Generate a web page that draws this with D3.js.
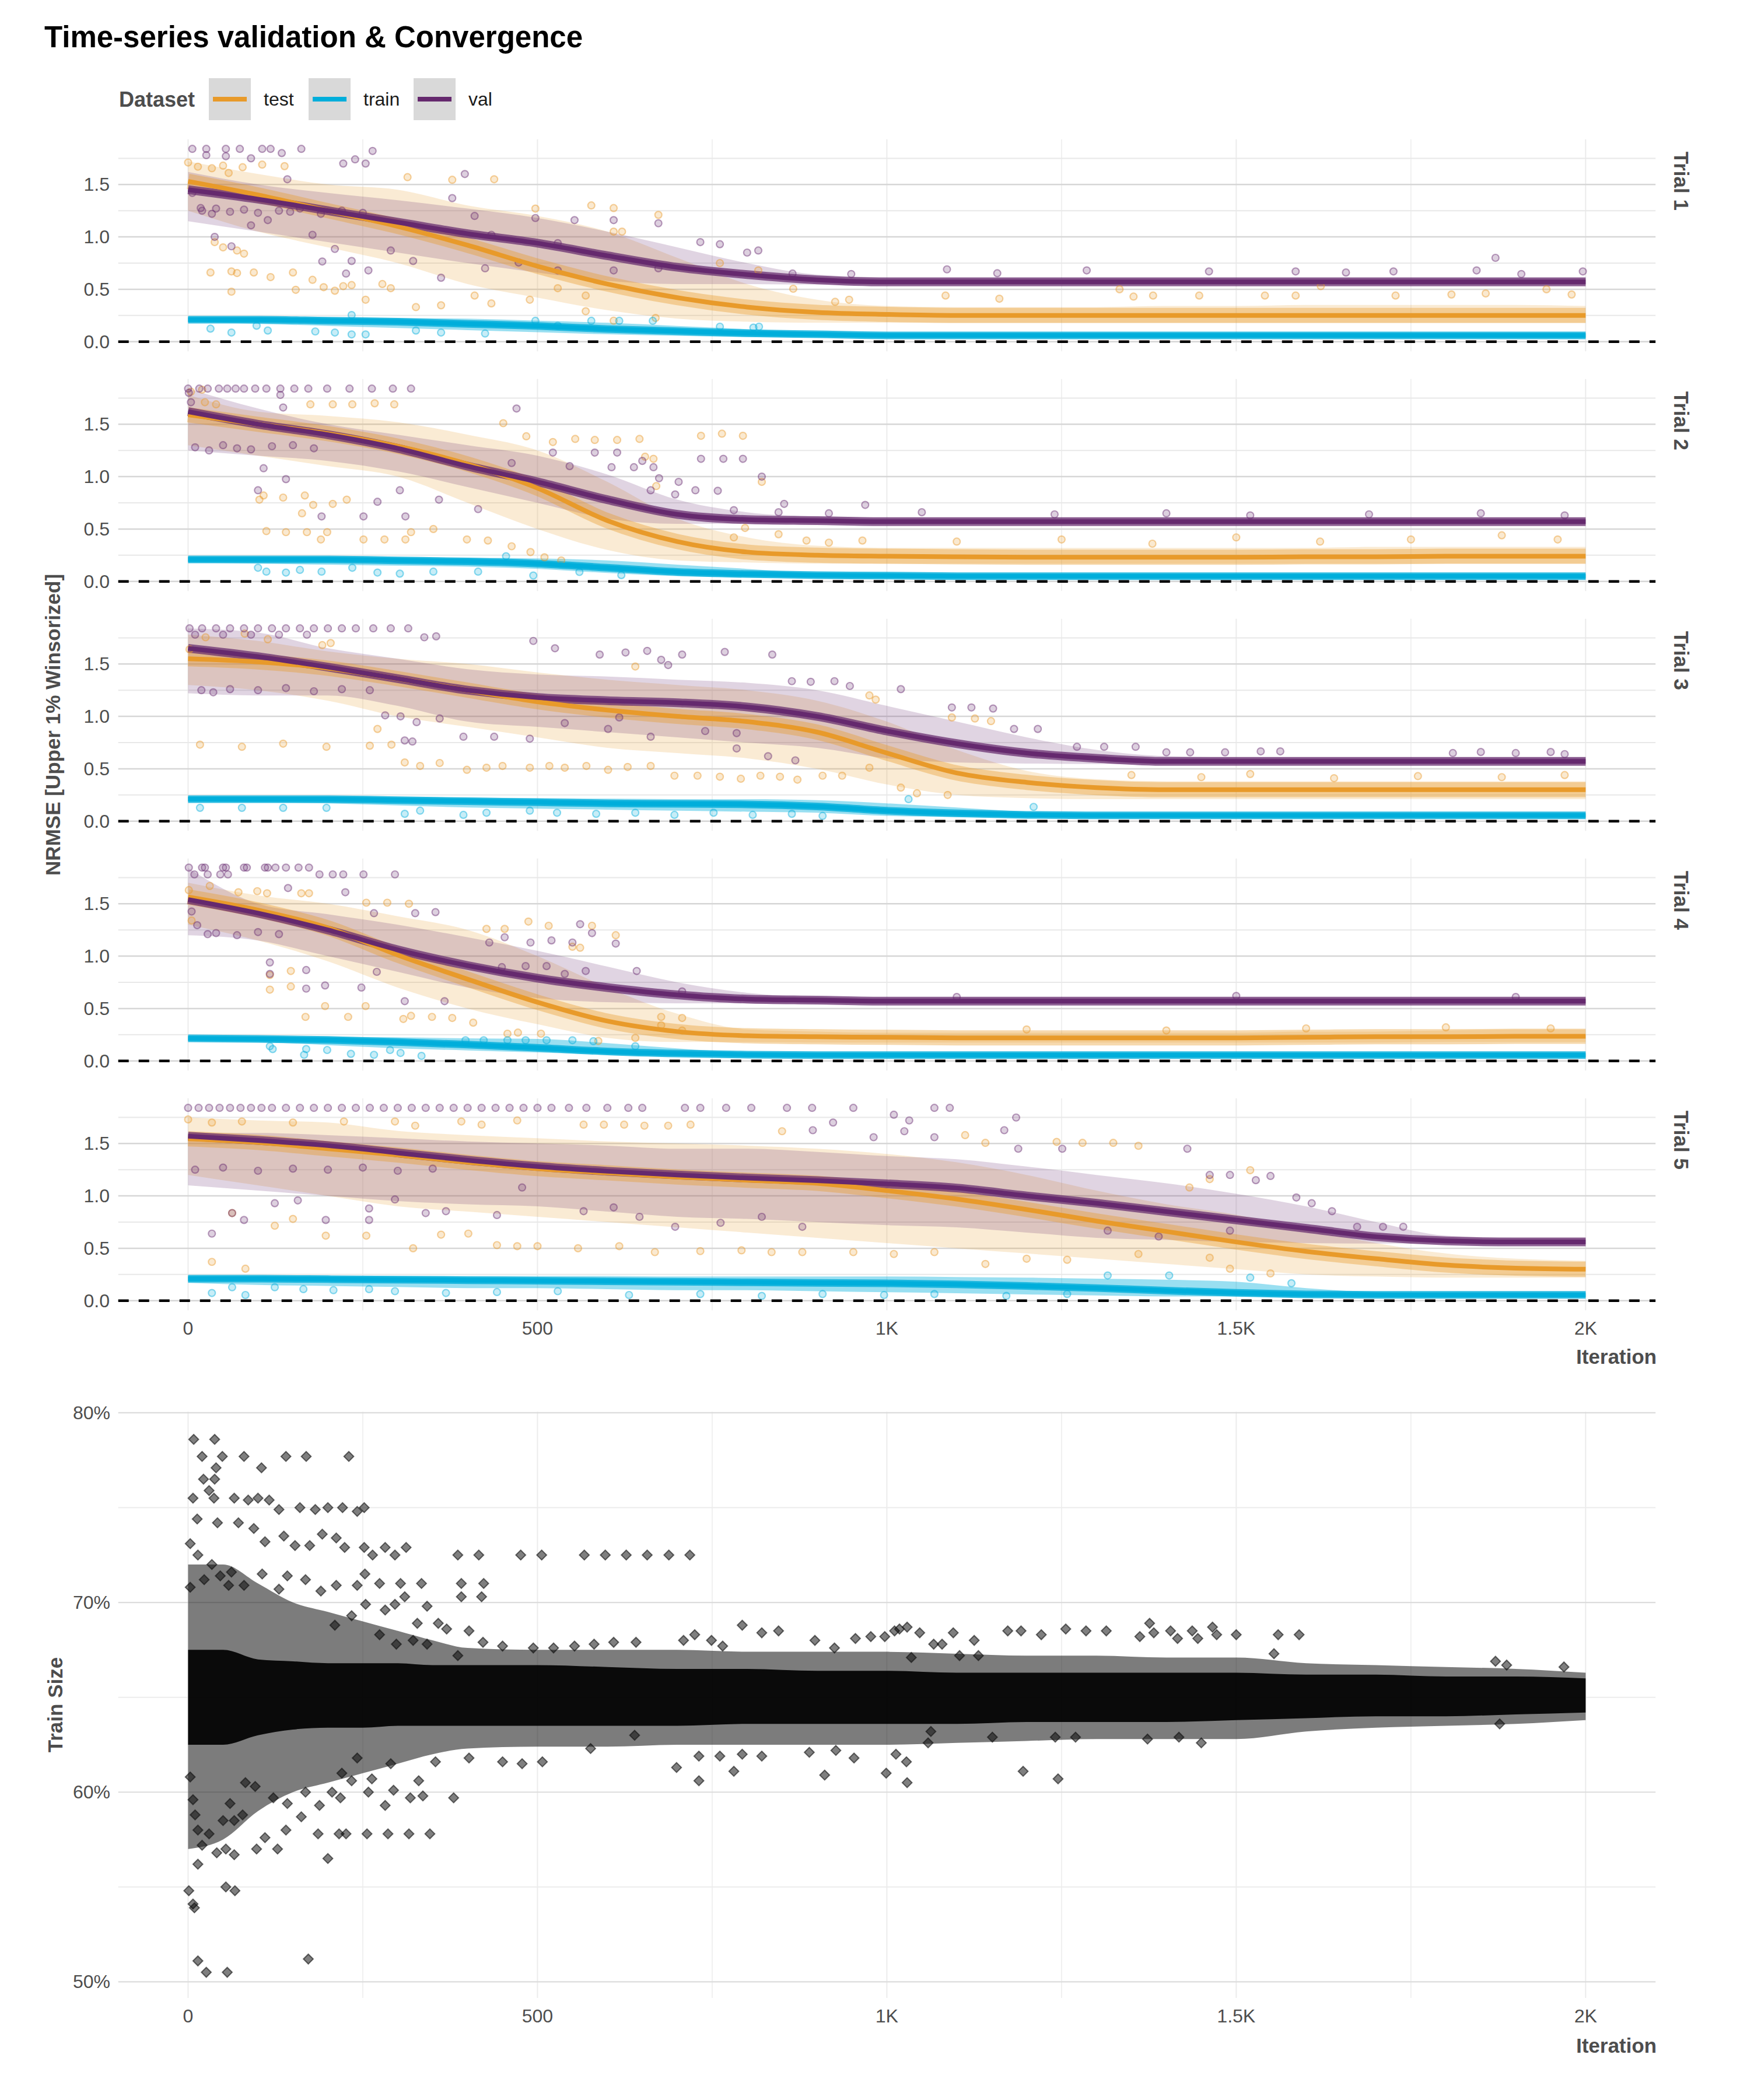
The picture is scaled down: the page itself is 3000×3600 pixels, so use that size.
<!DOCTYPE html>
<html><head><meta charset="utf-8">
<script src="https://cdn.jsdelivr.net/npm/d3@7/dist/d3.min.js"></script>
<style>body{margin:0;background:#fff} text{font-family:"Liberation Sans",Arial,Helvetica,sans-serif}</style>
</head><body><svg id="c" width="3000" height="3600"></svg>
<script>
// ---------------- DATA ----------------
const iters = [0,100,200,300,400,500,600,700,800,900,1000,1100,1200,1300,1400,1500,1600,1700,1800,1900,2000];
const trials = ["Trial 1","Trial 2","Trial 3","Trial 4","Trial 5"];
const seriesNames = ["test","train","val"];
const seriesColors = ["#E89A2A","#00AEDB","#65296E"];
const yTicks = [0,0.5,1,1.5];
const yMinor = [0.25,0.75,1.25,1.75];
const xTicks = [0,500,1000,1500,2000];
const xMinor = [250,750,1250,1750];
const xTickLabels = ["0","500","1K","1.5K","2K"];

// Trial 1
const t1Test   = [1.53,1.40,1.25,1.10,0.92,0.72,0.55,0.42,0.33,0.28,0.26,0.25,0.25,0.25,0.25,0.25,0.25,0.25,0.25,0.25,0.25];
const t1TestLo = [1.25,1.05,0.90,0.75,0.55,0.42,0.30,0.22,0.19,0.18,0.18,0.18,0.18,0.18,0.18,0.18,0.18,0.18,0.18,0.18,0.18];
const t1TestHi = [1.72,1.60,1.50,1.45,1.30,1.20,1.05,0.80,0.55,0.40,0.34,0.33,0.33,0.33,0.34,0.34,0.35,0.35,0.35,0.35,0.34];
const t1Train   = [0.21,0.21,0.20,0.19,0.17,0.15,0.12,0.10,0.08,0.07,0.06,0.06,0.06,0.06,0.06,0.06,0.06,0.06,0.06,0.06,0.06];
const t1TrainLo = [0.19,0.17,0.15,0.13,0.11,0.09,0.07,0.055,0.045,0.04,0.04,0.04,0.04,0.04,0.04,0.04,0.04,0.04,0.04,0.04,0.04];
const t1TrainHi = [0.235,0.235,0.23,0.225,0.22,0.20,0.18,0.15,0.12,0.09,0.075,0.075,0.075,0.075,0.075,0.075,0.075,0.075,0.075,0.075,0.075];
const t1Val   = [1.45,1.36,1.25,1.14,1.03,0.94,0.82,0.71,0.64,0.59,0.57,0.57,0.57,0.57,0.57,0.57,0.57,0.57,0.57,0.57,0.57];
const t1ValLo = [1.15,1.05,0.95,0.85,0.75,0.66,0.58,0.55,0.55,0.545,0.545,0.545,0.545,0.545,0.545,0.545,0.545,0.545,0.545,0.545,0.545];
const t1ValHi = [1.62,1.50,1.42,1.35,1.27,1.18,1.05,0.90,0.75,0.64,0.615,0.615,0.615,0.615,0.615,0.615,0.615,0.615,0.615,0.615,0.615];
const t1TestPts = [[0,1.71],[14,1.67],[34,1.655],[50,1.68],[58,1.61],[78,1.665],[106,1.69],[138,1.675],[38,0.95],[50,0.90],[70,0.87],[80,0.84],[32,0.66],[62,0.67],[70,0.655],[94,0.66],[118,0.616],[62,0.477],[150,0.66],[178,0.59],[154,0.495],[194,0.52],[210,0.486],[222,0.53],[234,0.54],[254,0.40],[278,0.55],[290,0.51],[326,0.33],[362,0.347],[314,1.57],[378,1.545],[438,1.55],[497,1.27],[577,1.30],[609,1.275],[673,1.21],[609,1.05],[621,1.05],[410,0.44],[434,0.365],[489,0.40],[529,0.51],[569,0.44],[569,0.29],[609,0.20],[669,0.226],[761,0.75],[816,0.68],[866,0.505],[926,0.38],[946,0.40],[1084,0.44],[1161,0.41],[1333,0.50],[1353,0.43],[1381,0.44],[1447,0.44],[1541,0.44],[1585,0.44],[1621,0.53],[1728,0.44],[1808,0.45],[1857,0.46],[1944,0.50],[1980,0.45]];
const t1TrainPts = [[32,0.124],[62,0.087],[98,0.152],[114,0.106],[182,0.097],[210,0.087],[234,0.069],[254,0.069],[326,0.106],[362,0.087],[425,0.078],[497,0.199],[529,0.152],[577,0.199],[617,0.199],[665,0.199],[761,0.143],[809,0.134],[817,0.143],[234,0.254]];
const t1ValPts = [[6,1.84],[26,1.84],[54,1.84],[74,1.84],[106,1.84],[118,1.84],[162,1.84],[264,1.82],[26,1.78],[54,1.77],[90,1.75],[134,1.80],[222,1.70],[239,1.74],[254,1.70],[396,1.60],[6,1.42],[18,1.275],[34,1.22],[38,1.0],[62,0.91],[90,1.11],[114,1.16],[142,1.55],[146,1.24],[178,1.02],[210,0.885],[192,0.765],[234,0.77],[258,0.68],[226,0.65],[290,0.87],[322,0.77],[362,0.61],[378,1.37],[410,1.20],[434,1.02],[497,1.18],[529,0.94],[553,1.16],[609,1.16],[673,1.13],[733,0.95],[761,0.93],[800,0.85],[816,0.87],[529,0.68],[609,0.68],[673,0.70],[473,0.755],[425,0.70],[865,0.65],[949,0.645],[1086,0.69],[1158,0.653],[1286,0.68],[1461,0.67],[1585,0.67],[1657,0.66],[1725,0.67],[1844,0.68],[1871,0.80],[1908,0.645],[1996,0.67],[20,1.25],[40,1.27],[60,1.24],[80,1.26],[100,1.23],[130,1.25],[160,1.27],[190,1.22],[220,1.25],[250,1.23]];

// Trial 2
const t2Test   = [1.59,1.50,1.41,1.29,1.12,0.89,0.58,0.38,0.28,0.25,0.24,0.235,0.23,0.23,0.23,0.23,0.235,0.235,0.24,0.24,0.24];
const t2TestLo = [1.30,1.20,1.10,1.00,0.75,0.50,0.30,0.20,0.18,0.17,0.17,0.17,0.17,0.17,0.17,0.17,0.17,0.17,0.17,0.17,0.17];
const t2TestHi = [1.78,1.62,1.58,1.52,1.40,1.25,0.95,0.60,0.42,0.34,0.32,0.32,0.32,0.32,0.32,0.32,0.32,0.33,0.33,0.33,0.33];
const t2Train   = [0.21,0.21,0.21,0.20,0.19,0.17,0.13,0.09,0.07,0.06,0.055,0.05,0.05,0.05,0.05,0.05,0.05,0.05,0.05,0.05,0.05];
const t2TrainLo = [0.18,0.17,0.16,0.15,0.14,0.12,0.08,0.05,0.04,0.035,0.035,0.035,0.035,0.035,0.035,0.035,0.035,0.035,0.035,0.035,0.035];
const t2TrainHi = [0.235,0.235,0.235,0.23,0.225,0.22,0.20,0.16,0.12,0.08,0.07,0.065,0.065,0.065,0.065,0.065,0.065,0.065,0.065,0.065,0.065];
const t2Val   = [1.62,1.50,1.40,1.27,1.10,0.95,0.78,0.64,0.59,0.58,0.57,0.57,0.57,0.57,0.57,0.57,0.57,0.57,0.57,0.57,0.57];
const t2ValLo = [1.25,1.20,1.15,1.05,0.90,0.75,0.60,0.55,0.55,0.545,0.545,0.545,0.545,0.545,0.545,0.545,0.545,0.545,0.545,0.545,0.545];
const t2ValHi = [1.84,1.65,1.50,1.40,1.30,1.20,1.02,0.78,0.66,0.62,0.61,0.61,0.61,0.61,0.61,0.61,0.61,0.61,0.61,0.61,0.61];
const t2TestPts = [[4,1.81],[20,1.83],[24,1.71],[40,1.69],[175,1.69],[207,1.69],[235,1.69],[267,1.70],[295,1.69],[102,0.78],[108,0.82],[136,0.80],[167,0.82],[179,0.73],[207,0.74],[227,0.78],[163,0.65],[112,0.48],[140,0.47],[170,0.47],[199,0.47],[190,0.40],[251,0.40],[281,0.40],[311,0.40],[319,0.47],[351,0.50],[399,0.40],[429,0.39],[451,1.51],[484,1.385],[522,1.33],[554,1.36],[582,1.35],[614,1.35],[646,1.36],[734,1.39],[764,1.41],[794,1.39],[654,1.19],[666,1.17],[670,0.91],[821,0.95],[463,0.335],[490,0.28],[510,0.23],[534,0.20],[885,0.39],[917,0.37],[965,0.39],[781,0.42],[797,0.51],[845,0.45],[1100,0.38],[1250,0.40],[1380,0.36],[1500,0.42],[1620,0.38],[1750,0.40],[1880,0.44],[1960,0.40]];
const t2TrainPts = [[100,0.13],[112,0.093],[140,0.084],[160,0.11],[191,0.093],[235,0.13],[271,0.084],[303,0.074],[351,0.093],[415,0.093],[455,0.24],[494,0.056],[560,0.09],[620,0.06]];
const t2ValPts = [[0,1.84],[16,1.84],[28,1.84],[44,1.84],[56,1.84],[68,1.84],[80,1.84],[96,1.84],[112,1.84],[132,1.84],[152,1.84],[172,1.84],[199,1.84],[231,1.84],[263,1.84],[293,1.84],[319,1.84],[1,1.80],[4,1.71],[132,1.78],[470,1.65],[136,1.66],[108,1.08],[100,0.87],[140,0.976],[191,0.62],[251,0.62],[271,0.76],[311,0.62],[303,0.87],[359,0.78],[415,0.69],[463,1.13],[522,1.23],[546,1.10],[582,1.23],[606,1.09],[614,1.23],[638,1.09],[650,1.15],[666,1.09],[674,0.985],[662,0.87],[702,0.95],[697,0.83],[726,0.87],[734,1.17],[758,0.865],[766,1.17],[794,1.17],[821,1.00],[853,0.74],[969,0.73],[917,0.65],[781,0.68],[845,0.66],[1050,0.66],[1240,0.64],[1400,0.65],[1520,0.63],[1690,0.64],[1850,0.65],[1970,0.63],[10,1.28],[30,1.25],[50,1.30],[70,1.27],[90,1.26],[120,1.29],[150,1.30],[180,1.27]];

// Trial 3
const t3Test   = [1.55,1.52,1.46,1.36,1.25,1.14,1.06,1.00,0.95,0.85,0.65,0.46,0.37,0.32,0.30,0.30,0.30,0.30,0.30,0.30,0.30];
const t3TestLo = [1.30,1.25,1.15,1.00,0.90,0.80,0.70,0.65,0.60,0.50,0.35,0.25,0.22,0.21,0.21,0.21,0.21,0.21,0.21,0.21,0.21];
const t3TestHi = [1.78,1.72,1.62,1.55,1.50,1.42,1.35,1.30,1.25,1.15,0.95,0.68,0.48,0.40,0.38,0.38,0.38,0.38,0.38,0.38,0.38];
const t3Train   = [0.21,0.21,0.21,0.20,0.19,0.18,0.17,0.165,0.16,0.14,0.10,0.075,0.06,0.055,0.055,0.055,0.055,0.055,0.055,0.055,0.055];
const t3TrainLo = [0.19,0.18,0.17,0.15,0.13,0.12,0.11,0.10,0.09,0.08,0.05,0.04,0.035,0.035,0.035,0.035,0.035,0.035,0.035,0.035,0.035];
const t3TrainHi = [0.235,0.235,0.235,0.23,0.225,0.22,0.215,0.21,0.21,0.20,0.17,0.13,0.09,0.07,0.065,0.065,0.065,0.065,0.065,0.065,0.065];
const t3Val   = [1.65,1.57,1.47,1.36,1.25,1.18,1.15,1.13,1.09,1.00,0.86,0.74,0.65,0.60,0.57,0.57,0.57,0.57,0.57,0.57,0.57];
const t3ValLo = [1.22,1.20,1.20,1.10,0.95,0.90,0.85,0.80,0.75,0.70,0.60,0.56,0.55,0.545,0.545,0.545,0.545,0.545,0.545,0.545,0.545];
const t3ValHi = [1.84,1.80,1.65,1.55,1.45,1.40,1.38,1.35,1.32,1.25,1.10,0.95,0.80,0.68,0.62,0.61,0.61,0.61,0.61,0.61,0.61];
const t3TestPts = [[17,0.73],[77,0.71],[136,0.74],[198,0.71],[260,0.72],[291,0.73],[271,0.88],[310,0.56],[332,0.527],[360,0.555],[399,0.49],[427,0.51],[450,0.527],[489,0.51],[517,0.527],[539,0.51],[570,0.527],[601,0.49],[629,0.517],[662,0.527],[696,0.434],[729,0.434],[761,0.424],[791,0.405],[819,0.434],[847,0.424],[872,0.396],[908,0.434],[936,0.434],[975,0.51],[1020,0.32],[1043,0.266],[1087,0.25],[1126,0.98],[1149,0.955],[1093,0.99],[975,1.2],[984,1.16],[640,1.476],[25,1.755],[81,1.79],[114,1.736],[192,1.68],[204,1.70],[2,1.64],[1350,0.44],[1450,0.42],[1520,0.45],[1640,0.41],[1760,0.43],[1880,0.42],[1970,0.44]];
const t3TrainPts = [[17,0.127],[77,0.127],[136,0.127],[198,0.127],[310,0.07],[332,0.1],[394,0.06],[427,0.08],[489,0.1],[528,0.08],[584,0.07],[640,0.08],[696,0.06],[752,0.08],[808,0.06],[864,0.07],[908,0.05],[1031,0.21],[1210,0.136]];
const t3ValPts = [[2,1.84],[20,1.84],[40,1.84],[60,1.84],[80,1.84],[100,1.84],[120,1.84],[140,1.84],[160,1.84],[180,1.84],[200,1.84],[220,1.84],[240,1.84],[265,1.84],[290,1.84],[315,1.84],[10,1.78],[50,1.78],[90,1.78],[130,1.78],[170,1.78],[338,1.755],[355,1.764],[494,1.72],[525,1.65],[589,1.59],[626,1.61],[657,1.625],[677,1.54],[687,1.49],[707,1.59],[768,1.615],[836,1.59],[864,1.336],[891,1.33],[925,1.336],[947,1.29],[1020,1.26],[1093,1.085],[1121,1.085],[1152,1.075],[1182,0.88],[1216,0.88],[1272,0.71],[1311,0.71],[1356,0.71],[1400,0.657],[1434,0.657],[1484,0.657],[1535,0.666],[1563,0.666],[282,1.01],[304,1.0],[327,0.945],[360,0.98],[394,0.806],[321,0.76],[310,0.77],[438,0.806],[489,0.787],[539,0.936],[601,0.88],[662,0.806],[740,0.86],[785,0.694],[830,0.62],[869,0.58],[785,0.84],[617,0.99],[19,1.25],[36,1.23],[1810,0.65],[1850,0.66],[1900,0.65],[1950,0.66],[1970,0.64],[60,1.26],[100,1.25],[140,1.27],[180,1.24],[220,1.26],[260,1.25]];

// Trial 4
const t4Test   = [1.565,1.44,1.27,1.01,0.78,0.56,0.38,0.28,0.24,0.23,0.225,0.22,0.22,0.22,0.22,0.22,0.225,0.23,0.23,0.235,0.235];
const t4TestLo = [1.30,1.15,0.95,0.70,0.50,0.35,0.22,0.18,0.18,0.175,0.175,0.175,0.175,0.175,0.175,0.175,0.175,0.175,0.18,0.18,0.18];
const t4TestHi = [1.70,1.58,1.50,1.38,1.25,1.00,0.70,0.45,0.30,0.28,0.27,0.27,0.27,0.27,0.27,0.27,0.28,0.28,0.29,0.30,0.30];
const t4Train   = [0.215,0.21,0.20,0.18,0.155,0.125,0.09,0.07,0.06,0.055,0.055,0.055,0.055,0.055,0.055,0.055,0.055,0.055,0.055,0.055,0.055];
const t4TrainLo = [0.19,0.18,0.15,0.12,0.10,0.08,0.06,0.045,0.04,0.04,0.04,0.04,0.04,0.04,0.04,0.04,0.04,0.04,0.04,0.04,0.04];
const t4TrainHi = [0.235,0.235,0.23,0.225,0.215,0.21,0.17,0.12,0.08,0.07,0.065,0.065,0.065,0.065,0.065,0.065,0.065,0.065,0.065,0.065,0.065];
const t4Val   = [1.54,1.41,1.25,1.06,0.91,0.79,0.70,0.63,0.59,0.58,0.57,0.57,0.57,0.57,0.57,0.57,0.57,0.57,0.57,0.57,0.57];
const t4ValLo = [1.20,1.15,1.00,0.85,0.70,0.60,0.56,0.55,0.55,0.545,0.545,0.545,0.545,0.545,0.545,0.545,0.545,0.545,0.545,0.545,0.545];
const t4ValHi = [1.84,1.50,1.40,1.30,1.18,1.05,0.90,0.75,0.65,0.61,0.605,0.605,0.605,0.605,0.605,0.605,0.605,0.605,0.605,0.605,0.605];
const t4TestPts = [[1,1.63],[5,1.34],[31,1.67],[72,1.61],[99,1.62],[113,1.60],[162,1.60],[173,1.60],[255,1.51],[285,1.51],[316,1.50],[117,0.82],[117,0.68],[147,0.858],[147,0.71],[168,0.42],[196,0.523],[229,0.42],[254,0.523],[308,0.40],[319,0.43],[349,0.42],[378,0.41],[408,0.365],[427,1.26],[453,1.26],[487,1.33],[516,1.29],[550,1.09],[561,1.08],[578,1.29],[612,1.20],[457,0.26],[472,0.27],[505,0.26],[677,0.42],[707,0.41],[677,0.34],[707,0.29],[587,0.19],[640,0.22],[1200,0.30],[1400,0.29],[1600,0.31],[1800,0.32],[1950,0.31]];
const t4TrainPts = [[117,0.14],[121,0.113],[166,0.058],[169,0.113],[199,0.104],[233,0.067],[266,0.058],[289,0.104],[304,0.076],[397,0.197],[423,0.197],[457,0.197],[483,0.197],[513,0.197],[550,0.197],[580,0.188],[640,0.14],[334,0.048]];
const t4ValPts = [[1,1.845],[20,1.845],[24,1.845],[50,1.845],[54,1.845],[80,1.845],[84,1.845],[110,1.845],[114,1.845],[125,1.845],[140,1.845],[158,1.845],[173,1.845],[9,1.78],[28,1.78],[46,1.78],[57,1.78],[188,1.78],[207,1.78],[222,1.78],[251,1.78],[296,1.78],[143,1.65],[225,1.61],[266,1.41],[325,1.41],[354,1.42],[561,1.305],[578,1.22],[612,1.12],[550,1.13],[520,1.15],[490,1.13],[453,1.18],[431,1.13],[117,0.94],[117,0.83],[169,0.867],[196,0.72],[169,0.69],[248,0.70],[270,0.85],[310,0.57],[367,0.57],[449,0.895],[483,0.905],[513,0.905],[539,0.83],[569,0.858],[642,0.858],[707,0.663],[5,1.426],[13,1.295],[28,1.21],[40,1.22],[70,1.20],[100,1.23],[130,1.21],[1100,0.61],[1500,0.62],[1900,0.61]];

// Trial 5
const t5Test   = [1.545,1.51,1.45,1.39,1.32,1.26,1.22,1.18,1.15,1.12,1.05,0.97,0.87,0.76,0.66,0.56,0.47,0.40,0.34,0.31,0.30];
const t5TestLo = [1.20,1.10,1.00,0.90,0.85,0.80,0.75,0.70,0.65,0.60,0.55,0.50,0.45,0.40,0.35,0.30,0.25,0.23,0.22,0.22,0.22];
const t5TestHi = [1.75,1.72,1.70,1.62,1.58,1.55,1.52,1.50,1.48,1.45,1.40,1.32,1.20,1.05,0.92,0.82,0.68,0.55,0.45,0.40,0.38];
const t5Train   = [0.21,0.21,0.205,0.20,0.195,0.19,0.185,0.18,0.175,0.17,0.165,0.155,0.14,0.12,0.095,0.075,0.06,0.055,0.055,0.055,0.055];
const t5TrainLo = [0.17,0.15,0.14,0.13,0.12,0.12,0.11,0.10,0.10,0.09,0.08,0.07,0.06,0.05,0.04,0.04,0.035,0.035,0.035,0.035,0.035];
const t5TrainHi = [0.235,0.235,0.235,0.235,0.235,0.235,0.235,0.23,0.23,0.23,0.23,0.225,0.22,0.21,0.20,0.18,0.12,0.08,0.07,0.065,0.065];
const t5Val   = [1.57,1.53,1.48,1.41,1.34,1.28,1.235,1.20,1.17,1.145,1.115,1.075,1.00,0.93,0.85,0.77,0.69,0.61,0.57,0.56,0.56];
const t5ValLo = [1.10,1.05,1.00,0.95,0.92,0.90,0.85,0.80,0.78,0.75,0.72,0.70,0.65,0.60,0.58,0.56,0.55,0.545,0.545,0.54,0.54];
const t5ValHi = [1.60,1.60,1.58,1.55,1.52,1.50,1.48,1.45,1.45,1.42,1.38,1.35,1.28,1.20,1.12,1.02,0.90,0.75,0.62,0.60,0.60];
const t5TestPts = [[0,1.73],[34,1.70],[77,1.71],[150,1.70],[223,1.71],[296,1.71],[325,1.67],[391,1.71],[420,1.68],[471,1.72],[566,1.68],[595,1.68],[624,1.68],[653,1.67],[687,1.67],[719,1.68],[34,0.37],[82,0.305],[63,0.836],[124,0.715],[150,0.78],[197,0.62],[255,0.62],[322,0.50],[362,0.63],[401,0.64],[442,0.53],[471,0.52],[500,0.52],[558,0.50],[617,0.52],[668,0.463],[733,0.473],[792,0.48],[835,0.463],[879,0.463],[952,0.463],[1010,0.445],[1068,0.463],[1141,0.35],[1200,0.40],[1258,0.39],[1360,0.445],[1462,0.41],[1491,0.305],[1549,0.26],[1520,1.245],[1462,1.16],[1243,1.515],[1280,1.506],[1324,1.506],[1360,1.478],[1141,1.506],[1112,1.58],[850,1.617],[1433,1.08]];
const t5TrainPts = [[34,0.073],[82,0.054],[63,0.128],[124,0.128],[165,0.11],[208,0.10],[259,0.11],[296,0.09],[369,0.073],[442,0.082],[529,0.09],[631,0.054],[733,0.063],[821,0.045],[908,0.063],[996,0.054],[1068,0.063],[1171,0.045],[1258,0.063],[1316,0.24],[1404,0.24],[1520,0.22],[1579,0.166]];
const t5ValPts = [[0,1.84],[15,1.84],[30,1.84],[45,1.84],[60,1.84],[75,1.84],[90,1.84],[105,1.84],[120,1.84],[140,1.84],[160,1.84],[180,1.84],[200,1.84],[220,1.84],[240,1.84],[260,1.84],[280,1.84],[300,1.84],[320,1.84],[340,1.84],[360,1.84],[380,1.84],[400,1.84],[420,1.84],[440,1.84],[460,1.84],[480,1.84],[500,1.84],[520,1.84],[545,1.84],[570,1.84],[600,1.84],[630,1.84],[650,1.84],[711,1.84],[733,1.84],[770,1.84],[806,1.84],[857,1.84],[893,1.84],[952,1.84],[1068,1.84],[1090,1.84],[34,0.64],[63,0.836],[80,0.77],[124,0.93],[157,0.957],[197,0.77],[259,0.88],[259,0.77],[296,0.966],[340,0.836],[369,0.854],[442,0.817],[478,1.08],[566,0.854],[609,0.89],[646,0.80],[697,0.705],[762,0.743],[821,0.80],[879,0.705],[1010,1.775],[1032,1.72],[923,1.70],[894,1.627],[981,1.56],[1025,1.617],[1068,1.56],[1168,1.627],[1185,1.748],[1188,1.45],[1251,1.45],[1430,1.45],[1462,1.2],[1549,1.19],[1491,1.2],[1528,1.15],[1586,0.985],[1608,0.93],[1637,0.854],[1673,0.705],[1710,0.705],[1739,0.705],[1316,0.668],[1389,0.612],[1491,0.668],[10,1.25],[50,1.27],[100,1.24],[150,1.26],[200,1.25],[250,1.27],[300,1.24],[350,1.26]];

// Train size panel
const sizeIters = [0,50,100,150,200,250,300,350,400,500,600,700,800,900,1000,1100,1200,1300,1400,1500,1600,1700,1800,1900,2000];
const sizeCoreHi = [67.5,67.5,67.0,66.9,66.8,66.8,66.8,66.7,66.7,66.7,66.6,66.5,66.5,66.4,66.4,66.3,66.3,66.3,66.3,66.3,66.2,66.2,66.1,66.1,66.0];
const sizeCoreLo = [62.5,62.5,63.0,63.3,63.4,63.4,63.5,63.5,63.5,63.5,63.5,63.5,63.6,63.6,63.6,63.6,63.7,63.7,63.7,63.8,63.9,64.0,64.0,64.1,64.2];
const sizeHaloHi = [72,72,71,70,69.5,69,68.5,68,67.6,67.5,67.5,67.5,67.4,67.4,67.4,67.3,67.2,67.2,67.1,67.1,66.8,66.7,66.6,66.5,66.3];
const sizeHaloLo = [57,57.5,59,60,60.5,61,61.5,62,62.3,62.4,62.4,62.5,62.5,62.5,62.5,62.6,62.7,62.8,62.8,62.8,63.2,63.4,63.5,63.6,63.8];
const sizePts = [[8,78.6],[38,78.6],[20,77.7],[49,77.7],[80,77.7],[140,77.7],[169,77.7],[230,77.7],[105,77.1],[40,77.1],[22,76.5],[38,76.5],[30,75.9],[7,75.5],[37,75.5],[66,75.5],[86,75.4],[100,75.5],[116,75.4],[130,74.9],[160,75.0],[182,74.9],[200,75.0],[221,75.0],[242,74.8],[252,75.0],[13,74.4],[42,74.2],[72,74.2],[94,73.9],[110,73.2],[137,73.5],[153,73.0],[174,73.0],[192,73.6],[212,73.4],[224,72.9],[252,72.9],[282,72.9],[312,72.9],[264,72.5],[296,72.5],[386,72.5],[416,72.5],[476,72.5],[506,72.5],[567,72.5],[597,72.5],[627,72.5],[657,72.5],[688,72.5],[718,72.5],[391,71.0],[423,71.0],[391,70.3],[420,70.3],[274,71.0],[304,71.0],[334,71.0],[253,71.5],[242,70.9],[212,70.9],[190,70.6],[168,71.2],[142,71.4],[130,70.7],[106,71.5],[80,70.9],[58,70.9],[46,71.4],[23,71.2],[3,70.8],[3,73.1],[14,72.5],[34,72.0],[62,71.6],[310,70.3],[296,69.9],[342,69.8],[328,68.9],[358,68.9],[370,68.6],[402,68.5],[210,68.8],[254,69.9],[282,69.6],[234,69.3],[274,68.3],[298,67.8],[322,68.0],[342,67.8],[386,67.2],[422,67.9],[450,67.7],[494,67.6],[523,67.6],[553,67.7],[581,67.8],[609,67.9],[641,67.9],[709,68.0],[725,68.3],[749,68.0],[765,67.7],[793,68.8],[821,68.4],[845,68.5],[897,68.0],[925,67.6],[955,68.1],[977,68.2],[1,54.8],[7,54.1],[9,53.9],[14,51.1],[26,50.5],[56,50.5],[172,51.2],[54,55.0],[67,54.8],[3,60.8],[7,59.6],[10,58.8],[14,58.0],[20,57.2],[14,56.2],[30,57.8],[41,56.8],[54,57.0],[66,56.7],[50,58.5],[66,58.5],[78,58.8],[98,57.0],[110,57.6],[128,57.0],[140,58.0],[162,58.7],[186,57.8],[200,56.5],[216,57.8],[226,57.8],[256,57.8],[286,57.8],[316,57.8],[346,57.8],[60,59.4],[82,60.5],[96,60.3],[122,59.7],[142,59.4],[168,60.0],[188,59.3],[206,60.0],[218,59.7],[234,60.6],[258,60.0],[282,59.3],[318,59.7],[336,59.8],[380,59.7],[263,60.7],[294,60.1],[330,60.6],[220,61.0],[242,61.8],[290,61.5],[354,61.6],[402,61.8],[450,61.6],[478,61.5],[507,61.6],[576,62.3],[639,63.0],[699,61.3],[731,61.9],[731,60.6],[761,61.9],[781,61.1],[793,62.0],[821,61.9],[889,62.1],[911,60.9],[927,62.2],[953,61.8],[997,68.2],[1011,68.5],[1018,68.6],[1029,68.7],[1047,68.4],[1067,67.8],[1079,67.8],[1095,68.4],[1125,68.0],[1173,68.5],[1192,68.5],[1221,68.3],[1256,68.6],[1285,68.5],[1314,68.5],[1362,68.2],[1376,68.9],[1382,68.4],[1406,68.5],[1416,68.1],[1437,68.5],[1445,68.1],[1466,68.7],[1472,68.3],[1500,68.3],[1560,68.3],[1590,68.3],[1554,67.3],[1035,67.1],[1104,67.2],[1131,67.2],[1871,66.9],[1887,66.7],[1969,66.6],[999,61.0],[1013,62.0],[1029,60.5],[1028,61.6],[1059,62.6],[1195,61.1],[1245,60.7],[1241,62.9],[1270,62.9],[1373,62.8],[1418,62.9],[1450,62.6],[1877,63.6],[1063,63.2],[1151,62.9]];
const sizeTicks = [50,60,70,80];
const sizeMinor = [55,65,75];

// ---------------- DRAW ----------------
const svg = d3.select("#c");
svg.append("rect").attr("width",3000).attr("height",3600).attr("fill","#fff");

const x = d3.scaleLinear().domain([-100,2100]).range([202.7,2838]);
const panelH = 363.5, panelStep = 411, panelTop0 = 238.7;
const y = d3.scaleLinear().domain([-0.092,1.932]).range([panelH,0]);
const grey = "#4d4d4d";

// title
svg.append("text").attr("x",76).attr("y",81).attr("font-size",51).attr("font-weight","bold")
  .attr("fill","#000").text("Time-series validation & Convergence");

// legend
svg.append("text").attr("x",204).attr("y",183).attr("font-size",36).attr("font-weight","bold").attr("fill",grey).text("Dataset");
const keyX = [358,529,709], labX = [452,623,803];
seriesNames.forEach((s,i)=>{
  svg.append("rect").attr("x",keyX[i]).attr("y",134).attr("width",72).attr("height",72).attr("fill","#d9d9d9");
  svg.append("line").attr("x1",keyX[i]+7).attr("x2",keyX[i]+65).attr("y1",170).attr("y2",170)
    .attr("stroke",seriesColors[i]).attr("stroke-width",8);
  svg.append("text").attr("x",labX[i]).attr("y",181).attr("font-size",32).attr("fill","#1a1a1a").text(s);
});

const trialSeries = [
  {test:t1Test,testLo:t1TestLo,testHi:t1TestHi,train:t1Train,trainLo:t1TrainLo,trainHi:t1TrainHi,val:t1Val,valLo:t1ValLo,valHi:t1ValHi,testPts:t1TestPts,trainPts:t1TrainPts,valPts:t1ValPts},
  {test:t2Test,testLo:t2TestLo,testHi:t2TestHi,train:t2Train,trainLo:t2TrainLo,trainHi:t2TrainHi,val:t2Val,valLo:t2ValLo,valHi:t2ValHi,testPts:t2TestPts,trainPts:t2TrainPts,valPts:t2ValPts},
  {test:t3Test,testLo:t3TestLo,testHi:t3TestHi,train:t3Train,trainLo:t3TrainLo,trainHi:t3TrainHi,val:t3Val,valLo:t3ValLo,valHi:t3ValHi,testPts:t3TestPts,trainPts:t3TrainPts,valPts:t3ValPts},
  {test:t4Test,testLo:t4TestLo,testHi:t4TestHi,train:t4Train,trainLo:t4TrainLo,trainHi:t4TrainHi,val:t4Val,valLo:t4ValLo,valHi:t4ValHi,testPts:t4TestPts,trainPts:t4TrainPts,valPts:t4ValPts},
  {test:t5Test,testLo:t5TestLo,testHi:t5TestHi,train:t5Train,trainLo:t5TrainLo,trainHi:t5TrainHi,val:t5Val,valLo:t5ValLo,valHi:t5ValHi,testPts:t5TestPts,trainPts:t5TrainPts,valPts:t5ValPts}
];
const cloudOpacity = {test:0.2, train:0.4, val:0.2};
const coreWidth = {test:26, train:13, val:15};
const coreOpacity = {test:0.38, train:0.8, val:0.72};

trials.forEach((tn,ti)=>{
  const top = panelTop0 + panelStep*ti;
  const g = svg.append("g").attr("transform",`translate(0,${top})`);
  const D = trialSeries[ti];
  xMinor.concat(xTicks).forEach(v=>g.append("line").attr("x1",x(v)).attr("x2",x(v)).attr("y1",0).attr("y2",panelH)
     .attr("stroke","#ececec").attr("stroke-width",xTicks.includes(v)?2:1.5));
  yMinor.forEach(v=>g.append("line").attr("x1",x.range()[0]).attr("x2",x.range()[1]).attr("y1",y(v)).attr("y2",y(v))
     .attr("stroke","#e8e8e8").attr("stroke-width",2));
  yTicks.forEach(v=>g.append("line").attr("x1",x.range()[0]).attr("x2",x.range()[1]).attr("y1",y(v)).attr("y2",y(v))
     .attr("stroke","#d6d6d6").attr("stroke-width",2.5));
  yTicks.forEach(v=>g.append("text").attr("x",188).attr("y",y(v)+11).attr("text-anchor","end")
     .attr("font-size",32).attr("fill",grey).text(v.toFixed(1)));
  g.append("text").attr("transform",`translate(2870,21) rotate(90)`).attr("font-size",35).attr("font-weight","bold")
     .attr("fill",grey).text(tn);

  const pts = iters.map((it,k)=>k);
  seriesNames.forEach((s,si)=>{
    const area = d3.area().x(k=>x(iters[k])).y0(k=>y(D[s+"Lo"][k])).y1(k=>y(D[s+"Hi"][k])).curve(d3.curveMonotoneX);
    g.append("path").attr("d",area(pts)).attr("fill",seriesColors[si]).attr("fill-opacity",cloudOpacity[s]);
  });
  seriesNames.forEach((s,si)=>{
    const line = d3.line().x(k=>x(iters[k])).y(k=>y(D[s][k])).curve(d3.curveMonotoneX);
    g.append("path").attr("d",line(pts)).attr("fill","none").attr("stroke",seriesColors[si])
      .attr("stroke-width",coreWidth[s]).attr("stroke-opacity",coreOpacity[s]).attr("stroke-linecap","butt");
  });
  seriesNames.forEach((s,si)=>{
    g.append("g").selectAll("circle").data(D[s+"Pts"]).join("circle")
      .attr("cx",d=>x(d[0])).attr("cy",d=>y(d[1])).attr("r",6)
      .attr("fill",seriesColors[si]).attr("fill-opacity",0.22)
      .attr("stroke",seriesColors[si]).attr("stroke-opacity",0.45).attr("stroke-width",2.2);
  });
  g.append("line").attr("x1",x.range()[0]).attr("x2",x.range()[1]).attr("y1",y(0)).attr("y2",y(0))
    .attr("stroke","#000").attr("stroke-width",4.5).attr("stroke-dasharray","18,17");
  seriesNames.forEach((s,si)=>{
    const line = d3.line().x(k=>x(iters[k])).y(k=>y(D[s][k])).curve(d3.curveMonotoneX);
    g.append("path").attr("d",line(pts)).attr("fill","none").attr("stroke",seriesColors[si])
      .attr("stroke-width",8).attr("stroke-linecap","butt");
  });
});

const xAxisY = panelTop0 + panelStep*4 + panelH;
xTicks.forEach((v,i)=>svg.append("text").attr("x",x(v)).attr("y",2288).attr("text-anchor","middle")
   .attr("font-size",32).attr("fill",grey).text(xTickLabels[i]));
svg.append("text").attr("x",2840).attr("y",2338).attr("text-anchor","end").attr("font-size",35)
   .attr("font-weight","bold").attr("fill",grey).text("Iteration");
const midY = (panelTop0 + xAxisY)/2;
svg.append("text").attr("transform",`translate(103,${midY}) rotate(-90)`).attr("text-anchor","middle")
   .attr("font-size",35).attr("font-weight","bold").attr("fill",grey).text("NRMSE [Upper 1% Winsorized]");

// ---------------- Train size panel ----------------
const ys = d3.scaleLinear().domain([49.15,80.06]).range([3425,2420]);
const gb = svg.append("g");
xMinor.concat(xTicks).forEach(v=>gb.append("line").attr("x1",x(v)).attr("x2",x(v)).attr("y1",2420).attr("y2",3425)
   .attr("stroke","#ececec").attr("stroke-width",xTicks.includes(v)?2:1.5));
sizeMinor.forEach(v=>gb.append("line").attr("x1",x.range()[0]).attr("x2",x.range()[1]).attr("y1",ys(v)).attr("y2",ys(v))
   .attr("stroke","#ececec").attr("stroke-width",2));
sizeTicks.forEach(v=>gb.append("line").attr("x1",x.range()[0]).attr("x2",x.range()[1]).attr("y1",ys(v)).attr("y2",ys(v))
   .attr("stroke","#dcdcdc").attr("stroke-width",2.2));
sizeTicks.forEach(v=>gb.append("text").attr("x",189).attr("y",ys(v)+11).attr("text-anchor","end")
   .attr("font-size",32).attr("fill",grey).text(v+"%"));
const sk = sizeIters.map((d,k)=>k);
const halo = d3.area().x(k=>x(sizeIters[k])).y0(k=>ys(sizeHaloLo[k])).y1(k=>ys(sizeHaloHi[k])).curve(d3.curveMonotoneX);
gb.append("path").attr("d",halo(sk)).attr("fill","#111").attr("fill-opacity",0.55);
const core = d3.area().x(k=>x(sizeIters[k])).y0(k=>ys(sizeCoreLo[k])).y1(k=>ys(sizeCoreHi[k])).curve(d3.curveMonotoneX);
gb.append("path").attr("d",core(sk)).attr("fill","#000").attr("fill-opacity",0.92);
const diamond = d3.symbol().type(d3.symbolSquare).size(140);
gb.append("g").selectAll("path").data(sizePts).join("path")
  .attr("d",diamond).attr("transform",d=>`translate(${x(d[0])},${ys(d[1])}) rotate(45)`)
  .attr("fill","#000").attr("fill-opacity",0.5).attr("stroke","#111").attr("stroke-opacity",0.6).attr("stroke-width",2);
xTicks.forEach((v,i)=>svg.append("text").attr("x",x(v)).attr("y",3467).attr("text-anchor","middle")
   .attr("font-size",32).attr("fill",grey).text(xTickLabels[i]));
svg.append("text").attr("x",2840).attr("y",3519).attr("text-anchor","end").attr("font-size",35)
   .attr("font-weight","bold").attr("fill",grey).text("Iteration");
svg.append("text").attr("transform",`translate(107,${(2420+3425)/2}) rotate(-90)`).attr("text-anchor","middle")
   .attr("font-size",35).attr("font-weight","bold").attr("fill",grey).text("Train Size");
</script></body></html>
